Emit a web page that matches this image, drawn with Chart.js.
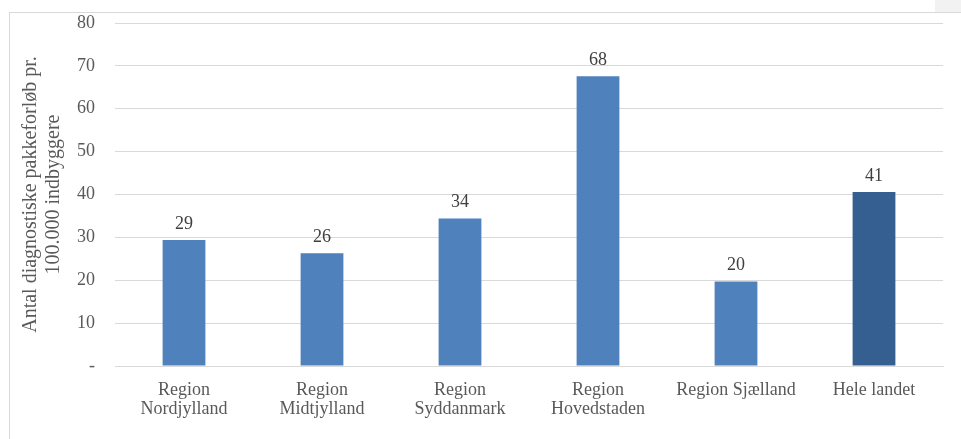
<!DOCTYPE html>
<html>
<head>
<meta charset="utf-8">
<script src="https://cdn.jsdelivr.net/npm/chart.js@4/dist/chart.umd.min.js"></script>
<style>
  html, body { margin: 0; padding: 0; background: #fff; }
  #wrap { position: relative; width: 961px; height: 439px; overflow: hidden; }
  #frame { position: absolute; left: 9px; top: 12px; width: 1000px; height: 500px;
           border-left: 1px solid #d9d9d9; border-top: 1px solid #d9d9d9; }
  #corner { position: absolute; left: 935px; top: 0; width: 26px; height: 12px; background: #f2f2f2; }
  canvas { position: absolute; left: 0; top: 0; }
</style>
</head>
<body>
<div id="wrap">
  <div id="frame"></div>
  <div id="corner"></div>
  <canvas id="c" width="961" height="439"></canvas>
</div>
<script>
// kategorier + værdier
const CATEGORIES = [
  ['Region', 'Nordjylland'],
  ['Region', 'Midtjylland'],
  ['Region', 'Syddanmark'],
  ['Region', 'Hovedstaden'],
  'Region Sjælland',
  'Hele landet',
];
const VALUES = [29.4, 26.3, 34.4, 67.6, 19.7, 40.6];
const BAR_COLORS = ['#4f81bd', '#4f81bd', '#4f81bd', '#4f81bd', '#4f81bd', '#365f91'];
const Y_TITLE = ['Antal diagnostiske pakkeforløb pr.', '100.000 indbyggere'];

const TEXT = '#595959';
const GRID = '#d9d9d9';
const FONT = "'Liberation Serif', 'Times New Roman', serif";

// værdi-etiketter over søjlerne
const valueLabels = {
  id: 'valueLabels',
  afterDatasetsDraw(chart) {
    const { ctx } = chart;
    const meta = chart.getDatasetMeta(0);
    ctx.save();
    ctx.font = '18px ' + FONT;
    ctx.fillStyle = '#404040';
    ctx.textAlign = 'center';
    ctx.textBaseline = 'bottom';
    meta.data.forEach((bar, i) => {
      ctx.fillText(String(Math.round(VALUES[i])), bar.x, bar.y - 7);
    });
    ctx.restore();
  },
};

new Chart(document.getElementById('c'), {
  type: 'bar',
  data: {
    labels: CATEGORIES,
    datasets: [{
      data: VALUES,
      backgroundColor: BAR_COLORS,
      borderWidth: 0,
      categoryPercentage: 1,
      barPercentage: 0.31,
    }],
  },
  options: {
    responsive: false,
    animation: false,
    devicePixelRatio: 1,
    layout: { padding: { left: 0, right: 18, top: 23, bottom: 0 } },
    plugins: { legend: { display: false }, tooltip: { enabled: false } },
    scales: {
      x: {
        grid: { display: false },
        border: { color: GRID, width: 1 },
        ticks: { color: TEXT, font: { family: FONT, size: 18, lineHeight: 1.1 }, maxRotation: 0, autoSkip: false, padding: 6 },
        afterFit: (s) => { s.height = 73; s.paddingLeft = 0; s.paddingRight = 0; },
      },
      y: {
        min: 0, max: 80,
        ticks: {
          stepSize: 10, color: TEXT, padding: 20,
          font: { family: FONT, size: 18 },
          callback: (v) => (v === 0 ? '-' : v),
        },
        grid: { color: GRID, lineWidth: 1, drawTicks: false },
        border: { display: false },
        title: {
          display: true, text: Y_TITLE, color: TEXT,
          font: { family: FONT, size: 20, lineHeight: 1.15 },
          padding: { top: 19, bottom: 0 },
        },
        afterFit: (s) => { s.width = 115; s.paddingTop = 0; s.paddingBottom = 0; },
      },
    },
  },
  plugins: [valueLabels],
});
</script>
</body>
</html>
